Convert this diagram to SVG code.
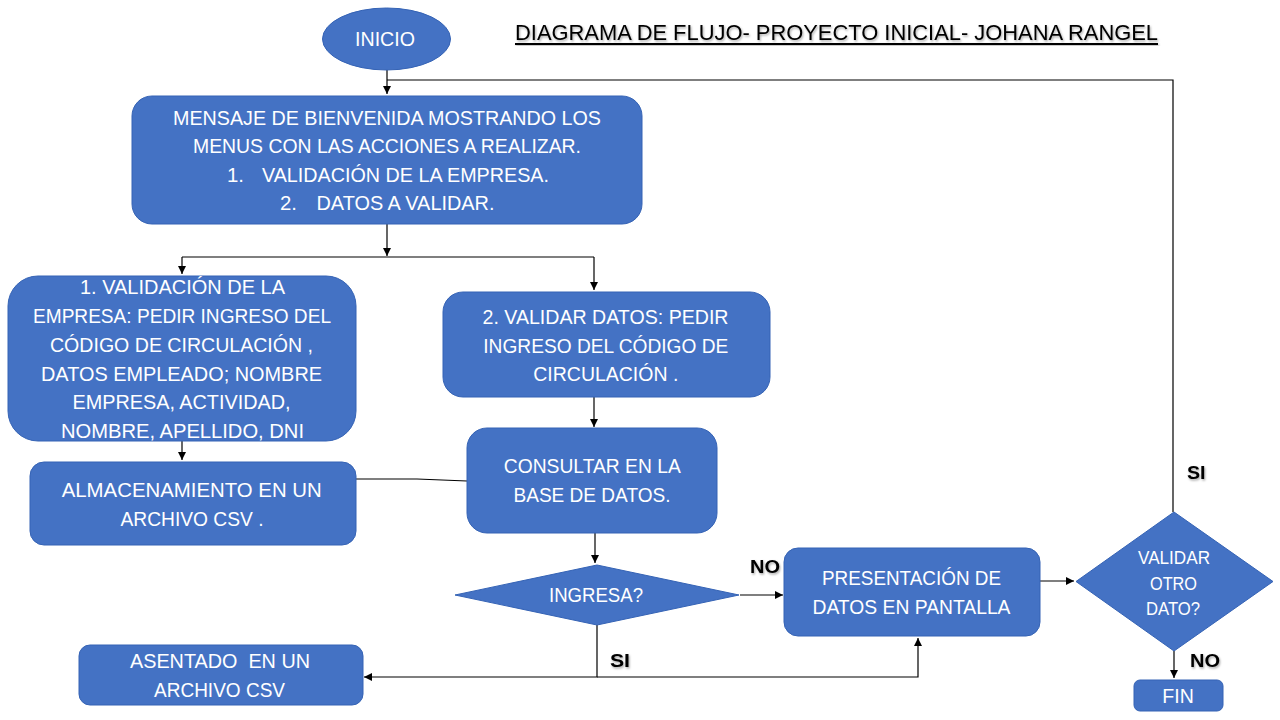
<svg xmlns="http://www.w3.org/2000/svg" width="1280" height="720" viewBox="0 0 1280 720">
<style>
.n{fill:#4472C4;stroke:#3563B5;stroke-width:1}
.t{font-family:"Liberation Sans",Arial,sans-serif;font-size:21px;fill:#FFFFFF;text-anchor:middle}
.s{font-size:19px}
.c{fill:none;stroke:#000;stroke-width:1.2}
.lbl{font-family:"Liberation Sans",Arial,sans-serif;font-size:19px;font-weight:bold;fill:#000;filter:url(#sh)}
.title{font-family:"Liberation Sans",Arial,sans-serif;font-size:22px;fill:#000;filter:url(#sh)}
</style>
<defs>
<marker id="ah" markerUnits="userSpaceOnUse" markerWidth="9" markerHeight="9" refX="8" refY="4" orient="auto">
<path d="M0,0 L8,4 L0,8 z" fill="#000"/>
</marker>
<filter id="sh" x="-10%" y="-50%" width="120%" height="200%">
<feDropShadow dx="1" dy="1.5" stdDeviation="0.8" flood-color="#000" flood-opacity="0.35"/>
</filter>
</defs>
<rect width="1280" height="720" fill="#FFFFFF"/>

<g id="title">
<text class="title" x="515" y="40" textLength="643" lengthAdjust="spacingAndGlyphs">DIAGRAMA DE FLUJO- PROYECTO INICIAL- JOHANA RANGEL</text>
<rect x="515" y="43" width="643" height="2" fill="#000" filter="url(#sh)"/>
</g>

<g id="connectors">
<path class="c" d="M387,70 V94" marker-end="url(#ah)"/>
<path class="c" d="M1173,512 V80 H387"/>
<path class="c" d="M387,224 V256" marker-end="url(#ah)"/>
<path class="c" d="M182,257 H594"/>
<path class="c" d="M182,257 V274" marker-end="url(#ah)"/>
<path class="c" d="M594,257 V290" marker-end="url(#ah)"/>
<path class="c" d="M182,441 V460" marker-end="url(#ah)"/>
<path class="c" d="M356,479 L417,479 L467,481" stroke="#404040"/>
<path class="c" d="M594,397 V427" marker-end="url(#ah)"/>
<path class="c" d="M595,533 V563" marker-end="url(#ah)"/>
<path class="c" d="M740,595 H783" marker-end="url(#ah)"/>
<path class="c" d="M597,625 V677 H364" marker-end="url(#ah)"/>
<path class="c" d="M597,677 H918 V638" marker-end="url(#ah)"/>
<path class="c" d="M1040,581 H1074" marker-end="url(#ah)"/>
<path class="c" d="M1174,651 V678" marker-end="url(#ah)"/>
</g>

<g id="inicio">
<ellipse class="n" cx="386.5" cy="39" rx="64" ry="31"/>
<text class="t" x="385" y="46" textLength="60" lengthAdjust="spacingAndGlyphs">INICIO</text>
</g>

<g id="bienvenida">
<rect class="n" x="132" y="96" width="510" height="128" rx="20"/>
<text class="t" x="387" y="125" textLength="428" lengthAdjust="spacingAndGlyphs">MENSAJE DE BIENVENIDA MOSTRANDO LOS</text>
<text class="t" x="387" y="153" textLength="388" lengthAdjust="spacingAndGlyphs">MENUS CON LAS ACCIONES A REALIZAR.</text>
<text class="t" y="182" style="text-anchor:start"><tspan x="227" textLength="17" lengthAdjust="spacingAndGlyphs">1.</tspan><tspan x="262" textLength="287" lengthAdjust="spacingAndGlyphs">VALIDACIÓN DE LA EMPRESA.</tspan></text>
<text class="t" y="210" style="text-anchor:start"><tspan x="280" textLength="17" lengthAdjust="spacingAndGlyphs">2.</tspan><tspan x="316.5" textLength="178" lengthAdjust="spacingAndGlyphs">DATOS A VALIDAR.</tspan></text>
</g>

<g id="validacion-empresa">
<rect class="n" x="8" y="276" width="348" height="165" rx="30"/>
<text class="t" x="182.5" y="294" textLength="205" lengthAdjust="spacingAndGlyphs">1. VALIDACIÓN DE LA</text>
<text class="t" x="182" y="323" textLength="298" lengthAdjust="spacingAndGlyphs">EMPRESA: PEDIR INGRESO DEL</text>
<text class="t" x="181.5" y="352" textLength="263" lengthAdjust="spacingAndGlyphs">CÓDIGO DE CIRCULACIÓN ,</text>
<text class="t" x="181.5" y="381" textLength="281" lengthAdjust="spacingAndGlyphs">DATOS EMPLEADO; NOMBRE</text>
<text class="t" x="181.5" y="409" textLength="218" lengthAdjust="spacingAndGlyphs">EMPRESA, ACTIVIDAD,</text>
<text class="t" x="182.5" y="438" textLength="243" lengthAdjust="spacingAndGlyphs">NOMBRE, APELLIDO, DNI</text>
</g>

<g id="almacenamiento">
<rect class="n" x="30" y="462" width="326" height="83" rx="14"/>
<text class="t" x="191.7" y="497" textLength="260" lengthAdjust="spacingAndGlyphs">ALMACENAMIENTO EN UN</text>
<text class="t" x="192" y="526" textLength="143" lengthAdjust="spacingAndGlyphs">ARCHIVO CSV .</text>
</g>

<g id="validar-datos">
<rect class="n" x="443" y="292" width="327" height="105" rx="20"/>
<text class="t" x="605.5" y="324" textLength="246" lengthAdjust="spacingAndGlyphs">2. VALIDAR DATOS: PEDIR</text>
<text class="t" x="605.8" y="353" textLength="245" lengthAdjust="spacingAndGlyphs">INGRESO DEL CÓDIGO DE</text>
<text class="t" x="605.8" y="381" textLength="145" lengthAdjust="spacingAndGlyphs">CIRCULACIÓN .</text>
</g>

<g id="consultar">
<rect class="n" x="467" y="428" width="250" height="105" rx="20"/>
<text class="t" x="592.3" y="473" textLength="177" lengthAdjust="spacingAndGlyphs">CONSULTAR EN LA</text>
<text class="t" x="592" y="502" textLength="157" lengthAdjust="spacingAndGlyphs">BASE DE DATOS.</text>
</g>

<g id="ingresa">
<polygon class="n" points="597,565 739,595 597,625 455,595"/>
<text class="t" x="596" y="602" textLength="94" lengthAdjust="spacingAndGlyphs">INGRESA?</text>
</g>

<g id="presentacion">
<rect class="n" x="784" y="548" width="256" height="88" rx="14"/>
<text class="t" x="911.5" y="585" textLength="179" lengthAdjust="spacingAndGlyphs">PRESENTACIÓN DE</text>
<text class="t" x="911.5" y="614" textLength="198" lengthAdjust="spacingAndGlyphs">DATOS EN PANTALLA</text>
</g>

<g id="validar-otro">
<polygon class="n" points="1174,512 1273,581.5 1174,651 1076,581.5"/>
<text class="t s" x="1174" y="564" textLength="72" lengthAdjust="spacingAndGlyphs">VALIDAR</text>
<text class="t s" x="1173.5" y="590" textLength="47" lengthAdjust="spacingAndGlyphs">OTRO</text>
<text class="t s" x="1173" y="615" textLength="54" lengthAdjust="spacingAndGlyphs">DATO?</text>
</g>

<g id="asentado">
<rect class="n" x="79" y="645" width="284" height="60" rx="11"/>
<text class="t" x="220" y="668" textLength="180" lengthAdjust="spacingAndGlyphs" xml:space="preserve">ASENTADO  EN UN</text>
<text class="t" x="219.5" y="697" textLength="131" lengthAdjust="spacingAndGlyphs">ARCHIVO CSV</text>
</g>

<g id="fin">
<rect class="n" x="1134" y="680" width="89" height="31" rx="6"/>
<text class="t" x="1178" y="703" textLength="31.5" lengthAdjust="spacingAndGlyphs">FIN</text>
</g>

<g id="labels">
<text class="lbl" x="750" y="573" textLength="30" lengthAdjust="spacingAndGlyphs">NO</text>
<text class="lbl" x="1187" y="479" textLength="18.5" lengthAdjust="spacingAndGlyphs">SI</text>
<text class="lbl" x="610" y="667" textLength="20" lengthAdjust="spacingAndGlyphs">SI</text>
<text class="lbl" x="1190" y="667" textLength="30" lengthAdjust="spacingAndGlyphs">NO</text>
</g>
</svg>
